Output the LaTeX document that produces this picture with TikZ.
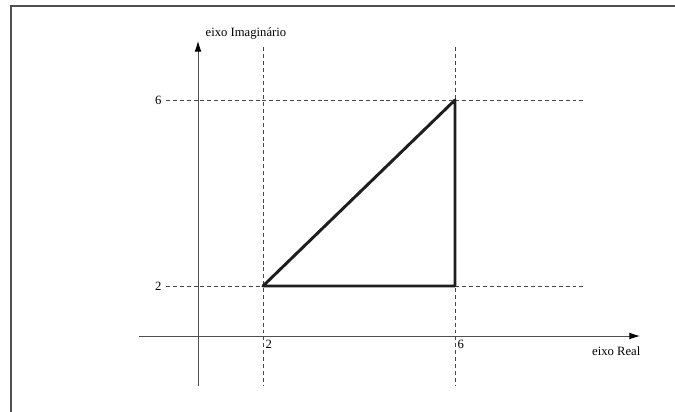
\documentclass[tikz,border=0pt]{standalone}
\usepackage{fontspec}
\setmainfont{Liberation Serif}
\usetikzlibrary{arrows.meta, positioning}
\definecolor{axiscolor}{RGB}{80,80,80}
\definecolor{gridcolor}{RGB}{70,70,70}
\definecolor{tricolor}{RGB}{30,30,30}
\tikzset{
  axis/.style    = {draw=axiscolor, line width=0.6pt,
                    -{Latex[length=7.5pt, width=4.8pt, color=black]}},
  guide/.style   = {draw=gridcolor, line width=0.45pt, dash pattern=on 2.8pt off 2.1pt},
  tri/.style     = {draw=tricolor, line width=2.1pt, line join=round},
  frameline/.style = {draw=axiscolor, line width=1.1pt},
  lbl/.style     = {font=\fontsize{9}{10}\selectfont, inner sep=1pt},
}
\begin{document}
\begin{tikzpicture}[x=0.025cm, y=-0.025cm]
  \useasboundingbox (0,0) rectangle (675,412);
  % frame
  \coordinate (fr0) at (11,412);
  \coordinate (fr1) at (11,6);
  \coordinate (fr2) at (675,6);
  \draw[frameline] (fr0) -- (fr1) -- (fr2);
  % axes
  \coordinate (xs) at (139,336);
  \coordinate (xe) at (640,336);
  \coordinate (ys) at (198,386);
  \coordinate (ye) at (198,41);
  \draw[axis] (xs) -- (xe);
  \draw[axis] (ys) -- (ye);
  \node[lbl, anchor=base west] (imlbl) at (204,37) {eixo Imaginário};
  \node[lbl, anchor=base east] (relbl) at (642,355) {eixo Real};
  % guides
  \foreach \xv/\xx in {2/263, 6/455} {
    \coordinate (vt\xv) at (\xx,47);
    \coordinate (vb\xv) at (\xx,386);
    \draw[guide] (vt\xv) -- (vb\xv);
    \node[lbl, anchor=north west] (xl\xv) at (\xx+1,338) {\xv};
  }
  \foreach \yv/\yy in {2/286, 6/100} {
    \coordinate (hl\yv) at (166,\yy);
    \coordinate (hr\yv) at (583,\yy);
    \draw[guide] (hl\yv) -- (hr\yv);
    \node[lbl, anchor=east] (yl\yv) at ([xshift=-2pt]hl\yv) {\yv};
  }
  % triangle
  \coordinate (A) at (263,286);
  \coordinate (B) at (455,100);
  \coordinate (C) at (455,286);
  \draw[tri] (A) -- (B) -- (C) -- cycle;
\end{tikzpicture}
\end{document}
